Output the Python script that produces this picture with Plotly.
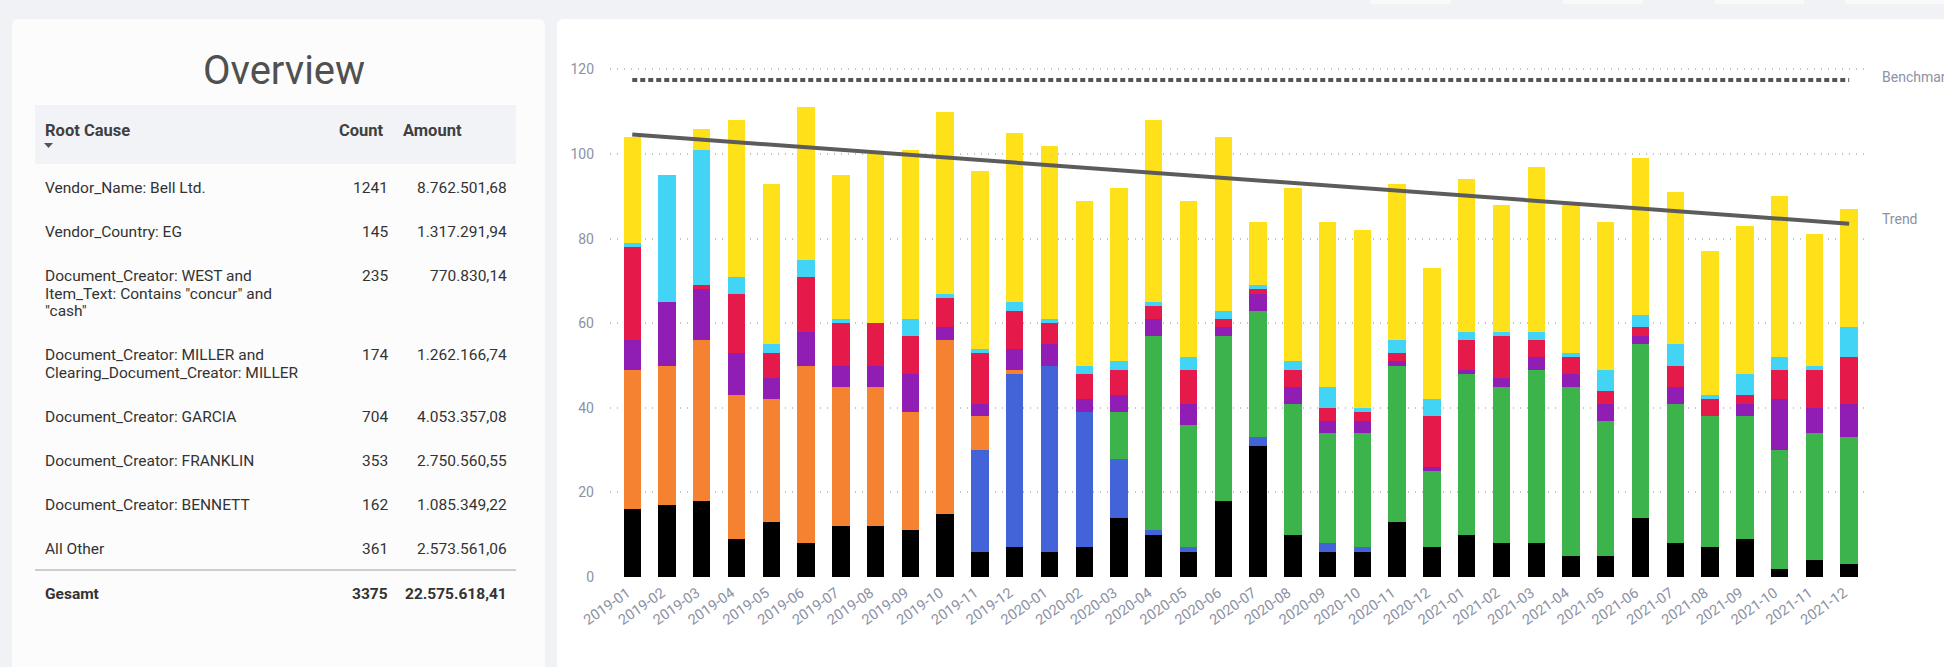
import plotly.graph_objects as go

# ---------------------------------------------------------------- data
months = [
    "2019-01", "2019-02", "2019-03", "2019-04", "2019-05", "2019-06",
    "2019-07", "2019-08", "2019-09", "2019-10", "2019-11", "2019-12",
    "2020-01", "2020-02", "2020-03", "2020-04", "2020-05", "2020-06",
    "2020-07", "2020-08", "2020-09", "2020-10", "2020-11", "2020-12",
    "2021-01", "2021-02", "2021-03", "2021-04", "2021-05", "2021-06",
    "2021-07", "2021-08", "2021-09", "2021-10", "2021-11", "2021-12",
]

# monthly counts per root cause (stack order bottom -> top)
all_other = [16, 17, 18, 9, 13, 8, 12, 12, 11, 15, 6, 7,
             6, 7, 14, 10, 6, 18, 31, 10, 6, 6, 13, 7,
             10, 8, 8, 5, 5, 14, 8, 7, 9, 2, 4, 3]
bennett = [0, 0, 0, 0, 0, 0, 0, 0, 0, 0, 24, 41,
           44, 32, 14, 1, 1, 0, 2, 0, 2, 1, 0, 0,
           0, 0, 0, 0, 0, 0, 0, 0, 0, 0, 0, 0]
franklin = [33, 33, 38, 34, 29, 42, 33, 33, 28, 41, 8, 1,
            0, 0, 0, 0, 0, 0, 0, 0, 0, 0, 0, 0,
            0, 0, 0, 0, 0, 0, 0, 0, 0, 0, 0, 0]
garcia = [0, 0, 0, 0, 0, 0, 0, 0, 0, 0, 0, 0,
          0, 0, 11, 46, 29, 39, 30, 31, 26, 27, 37, 18,
          38, 37, 41, 40, 32, 41, 33, 31, 29, 28, 30, 30]
miller = [7, 15, 12, 10, 5, 8, 5, 5, 9, 3, 3, 5,
          5, 3, 4, 4, 5, 2, 4, 4, 3, 3, 1, 1,
          1, 2, 3, 3, 4, 2, 4, 0, 3, 12, 6, 8]
west = [22, 0, 1, 14, 6, 13, 10, 10, 9, 7, 12, 9,
        5, 6, 6, 3, 8, 2, 1, 4, 3, 2, 2, 12,
        7, 10, 4, 4, 3, 2, 5, 4, 2, 7, 9, 11]
vendor_eg = [1, 30, 32, 4, 2, 4, 1, 0, 4, 1, 1, 2,
             1, 2, 2, 1, 3, 2, 1, 2, 5, 1, 3, 4,
             2, 1, 2, 1, 5, 3, 5, 1, 5, 3, 1, 7]
bell_ltd = [25, 0, 5, 37, 38, 36, 34, 40, 40, 43, 42, 40,
            41, 39, 41, 43, 37, 41, 15, 41, 39, 42, 37, 31,
            36, 30, 39, 35, 35, 37, 36, 34, 35, 38, 31, 28]

benchmark_value = 117.5
trend_start = 104.6
trend_end = 83.5

# overview table
root_cause_lines = [
    ["Vendor_Name: Bell Ltd."],
    ["Vendor_Country: EG"],
    ["Document_Creator: WEST and", 'Item_Text: Contains "concur" and', '"cash"'],
    ["Document_Creator: MILLER and", "Clearing_Document_Creator: MILLER"],
    ["Document_Creator: GARCIA"],
    ["Document_Creator: FRANKLIN"],
    ["Document_Creator: BENNETT"],
    ["All Other"],
]
counts = [1241, 145, 235, 174, 704, 353, 162, 361]
amounts = [8762501.68, 1317291.94, 770830.14, 1262166.74,
           4053357.08, 2750560.55, 1085349.22, 2573561.06]
total_label = "Gesamt"

# ---------------------------------------------------------------- page geometry
W, H = 1944, 667
FONT = "Roboto, 'Noto Sans', sans-serif"
PAGE_BG = "#f1f2f5"
TEXT = "#333333"
AXIS_TEXT = "#8c91a4"


def px(x):
    return x / W


def py(y):
    return 1 - y / H


def rounded_rect(x0, y0, x1, y1, r):
    return (
        f"M {px(x0 + r)},{py(y0)} L {px(x1 - r)},{py(y0)} "
        f"Q {px(x1)},{py(y0)} {px(x1)},{py(y0 + r)} "
        f"L {px(x1)},{py(y1 - r)} Q {px(x1)},{py(y1)} {px(x1 - r)},{py(y1)} "
        f"L {px(x0 + r)},{py(y1)} Q {px(x0)},{py(y1)} {px(x0)},{py(y1 - r)} "
        f"L {px(x0)},{py(y0 + r)} Q {px(x0)},{py(y0)} {px(x0 + r)},{py(y0)} Z"
    )


def fmt_de(v):
    s = f"{v:,.2f}"
    return s.replace(",", "X").replace(".", ",").replace("X", ".")


# ---------------------------------------------------------------- chart
fig = go.Figure()

series = [
    ("All Other", all_other, "#000000"),
    ("Document_Creator: BENNETT", bennett, "#4363d8"),
    ("Document_Creator: FRANKLIN", franklin, "#f58231"),
    ("Document_Creator: GARCIA", garcia, "#3cb44b"),
    ("Document_Creator: MILLER", miller, "#911eb4"),
    ("Document_Creator: WEST", west, "#e6194b"),
    ("Vendor_Country: EG", vendor_eg, "#42d4f4"),
    ("Vendor_Name: Bell Ltd.", bell_ltd, "#ffe119"),
]
for name, vals, color in series:
    fig.add_trace(go.Bar(
        x=months, y=vals, name=name,
        marker=dict(color=color, line=dict(width=0)),
    ))

fig.add_trace(go.Scatter(
    x=[months[0], months[-1]], y=[benchmark_value, benchmark_value],
    mode="lines", name="Benchmark",
    line=dict(color="#555555", width=4, dash="5px,3px"),
))
fig.add_trace(go.Scatter(
    x=[months[0], months[-1]], y=[trend_start, trend_end],
    mode="lines", name="Trend",
    line=dict(color="#5c5c5c", width=4),
))

# ---------------------------------------------------------------- cards & table
shapes = [
    dict(type="path", xref="paper", yref="paper", layer="below",
         path=rounded_rect(12, 19, 545, 720, 7),
         fillcolor="#fcfcfc", line=dict(width=0)),
    dict(type="path", xref="paper", yref="paper", layer="below",
         path=rounded_rect(557, 19, 1990, 720, 7),
         fillcolor="#ffffff", line=dict(width=0)),
    # table header band
    dict(type="rect", xref="paper", yref="paper", layer="below",
         x0=px(35), x1=px(516), y0=py(105), y1=py(164),
         fillcolor="#f2f3f7", line=dict(width=0)),
    # sort arrow
    dict(type="path", xref="paper", yref="paper",
         path=f"M {px(44)},{py(143)} L {px(53)},{py(143)} L {px(48.5)},{py(148)} Z",
         fillcolor="#555555", line=dict(width=0)),
    # total divider
    dict(type="line", xref="paper", yref="paper",
         x0=px(35), x1=px(516), y0=py(570), y1=py(570),
         line=dict(color="#c9ced3", width=2)),
]

# edges of neighbouring buttons along the top border
for bx0, bx1 in [(1370, 1451), (1563, 1643), (1715, 1804), (1845, 1944)]:
    shapes.append(dict(type="rect", xref="paper", yref="paper", layer="below",
                       x0=px(bx0), x1=px(bx1), y0=py(4), y1=py(0),
                       fillcolor="#f8faf8", line=dict(width=0)))

ann = []


def label(x, y, text, anchor="left", size=15.5, color=TEXT, bold=False):
    if bold:
        text = f"<b>{text}</b>"
    ann.append(dict(
        xref="paper", yref="paper", x=px(x), y=py(y), text=text,
        xanchor=anchor, yanchor="middle", showarrow=False,
        font=dict(family=FONT, size=size, color=color),
    ))


label(284, 71, "Overview", anchor="center", size=40, color="#505050")
label(43, 130, "Root Cause", size=16.5, bold=True, color="#404040")
label(386, 130, "Count", anchor="right", size=16.5, bold=True, color="#404040")
label(401, 130, "Amount", size=16.5, bold=True, color="#404040")

row_y = 188
for lines, cnt, amt in zip(root_cause_lines, counts, amounts):
    for k, line in enumerate(lines):
        label(43, row_y + k * 17.5, line)
    label(390, row_y, str(cnt), anchor="right")
    label(509, row_y, fmt_de(amt), anchor="right")
    row_y += 44 + 17.5 * (len(lines) - 1)

label(43, 594, total_label, bold=True)
label(390, 594, str(sum(counts)), anchor="right", bold=True)
label(509, 594, fmt_de(sum(amounts)), anchor="right", bold=True)

# line labels at the right edge of the plot
label(1880, 77, "Benchmark", size=14, color=AXIS_TEXT)
label(1880, 219, "Trend", size=14, color=AXIS_TEXT)

# ---------------------------------------------------------------- layout
fig.update_layout(
    width=W, height=H, autosize=False,
    margin=dict(l=0, r=0, t=0, b=0, pad=0),
    paper_bgcolor=PAGE_BG, plot_bgcolor="rgba(0,0,0,0)",
    barmode="stack", bargap=0.5,
    showlegend=False,
    font=dict(family=FONT, color=AXIS_TEXT),
    shapes=shapes, annotations=ann,
    xaxis=dict(
        type="category", domain=[px(610), px(1870)], range=[-0.64, 35.6],
        automargin=False,
        showgrid=False, zeroline=False, showline=False, ticks="",
        tickangle=-35, ticklabelstandoff=4, ticklabelshift=-5,
        tickfont=dict(family=FONT, size=14.5, color=AXIS_TEXT),
        fixedrange=True,
    ),
    yaxis=dict(
        domain=[py(577), py(52.5)], range=[0, 124],
        automargin=False,
        tick0=0, dtick=20, showgrid=True, gridcolor="#c4c4c4",
        gridwidth=1.5, griddash="1px,6px", zeroline=False, showline=False,
        ticks="", ticklabelstandoff=15,
        tickfont=dict(family=FONT, size=14, color=AXIS_TEXT),
        fixedrange=True,
    ),
)

fig.write_html("out.html")
